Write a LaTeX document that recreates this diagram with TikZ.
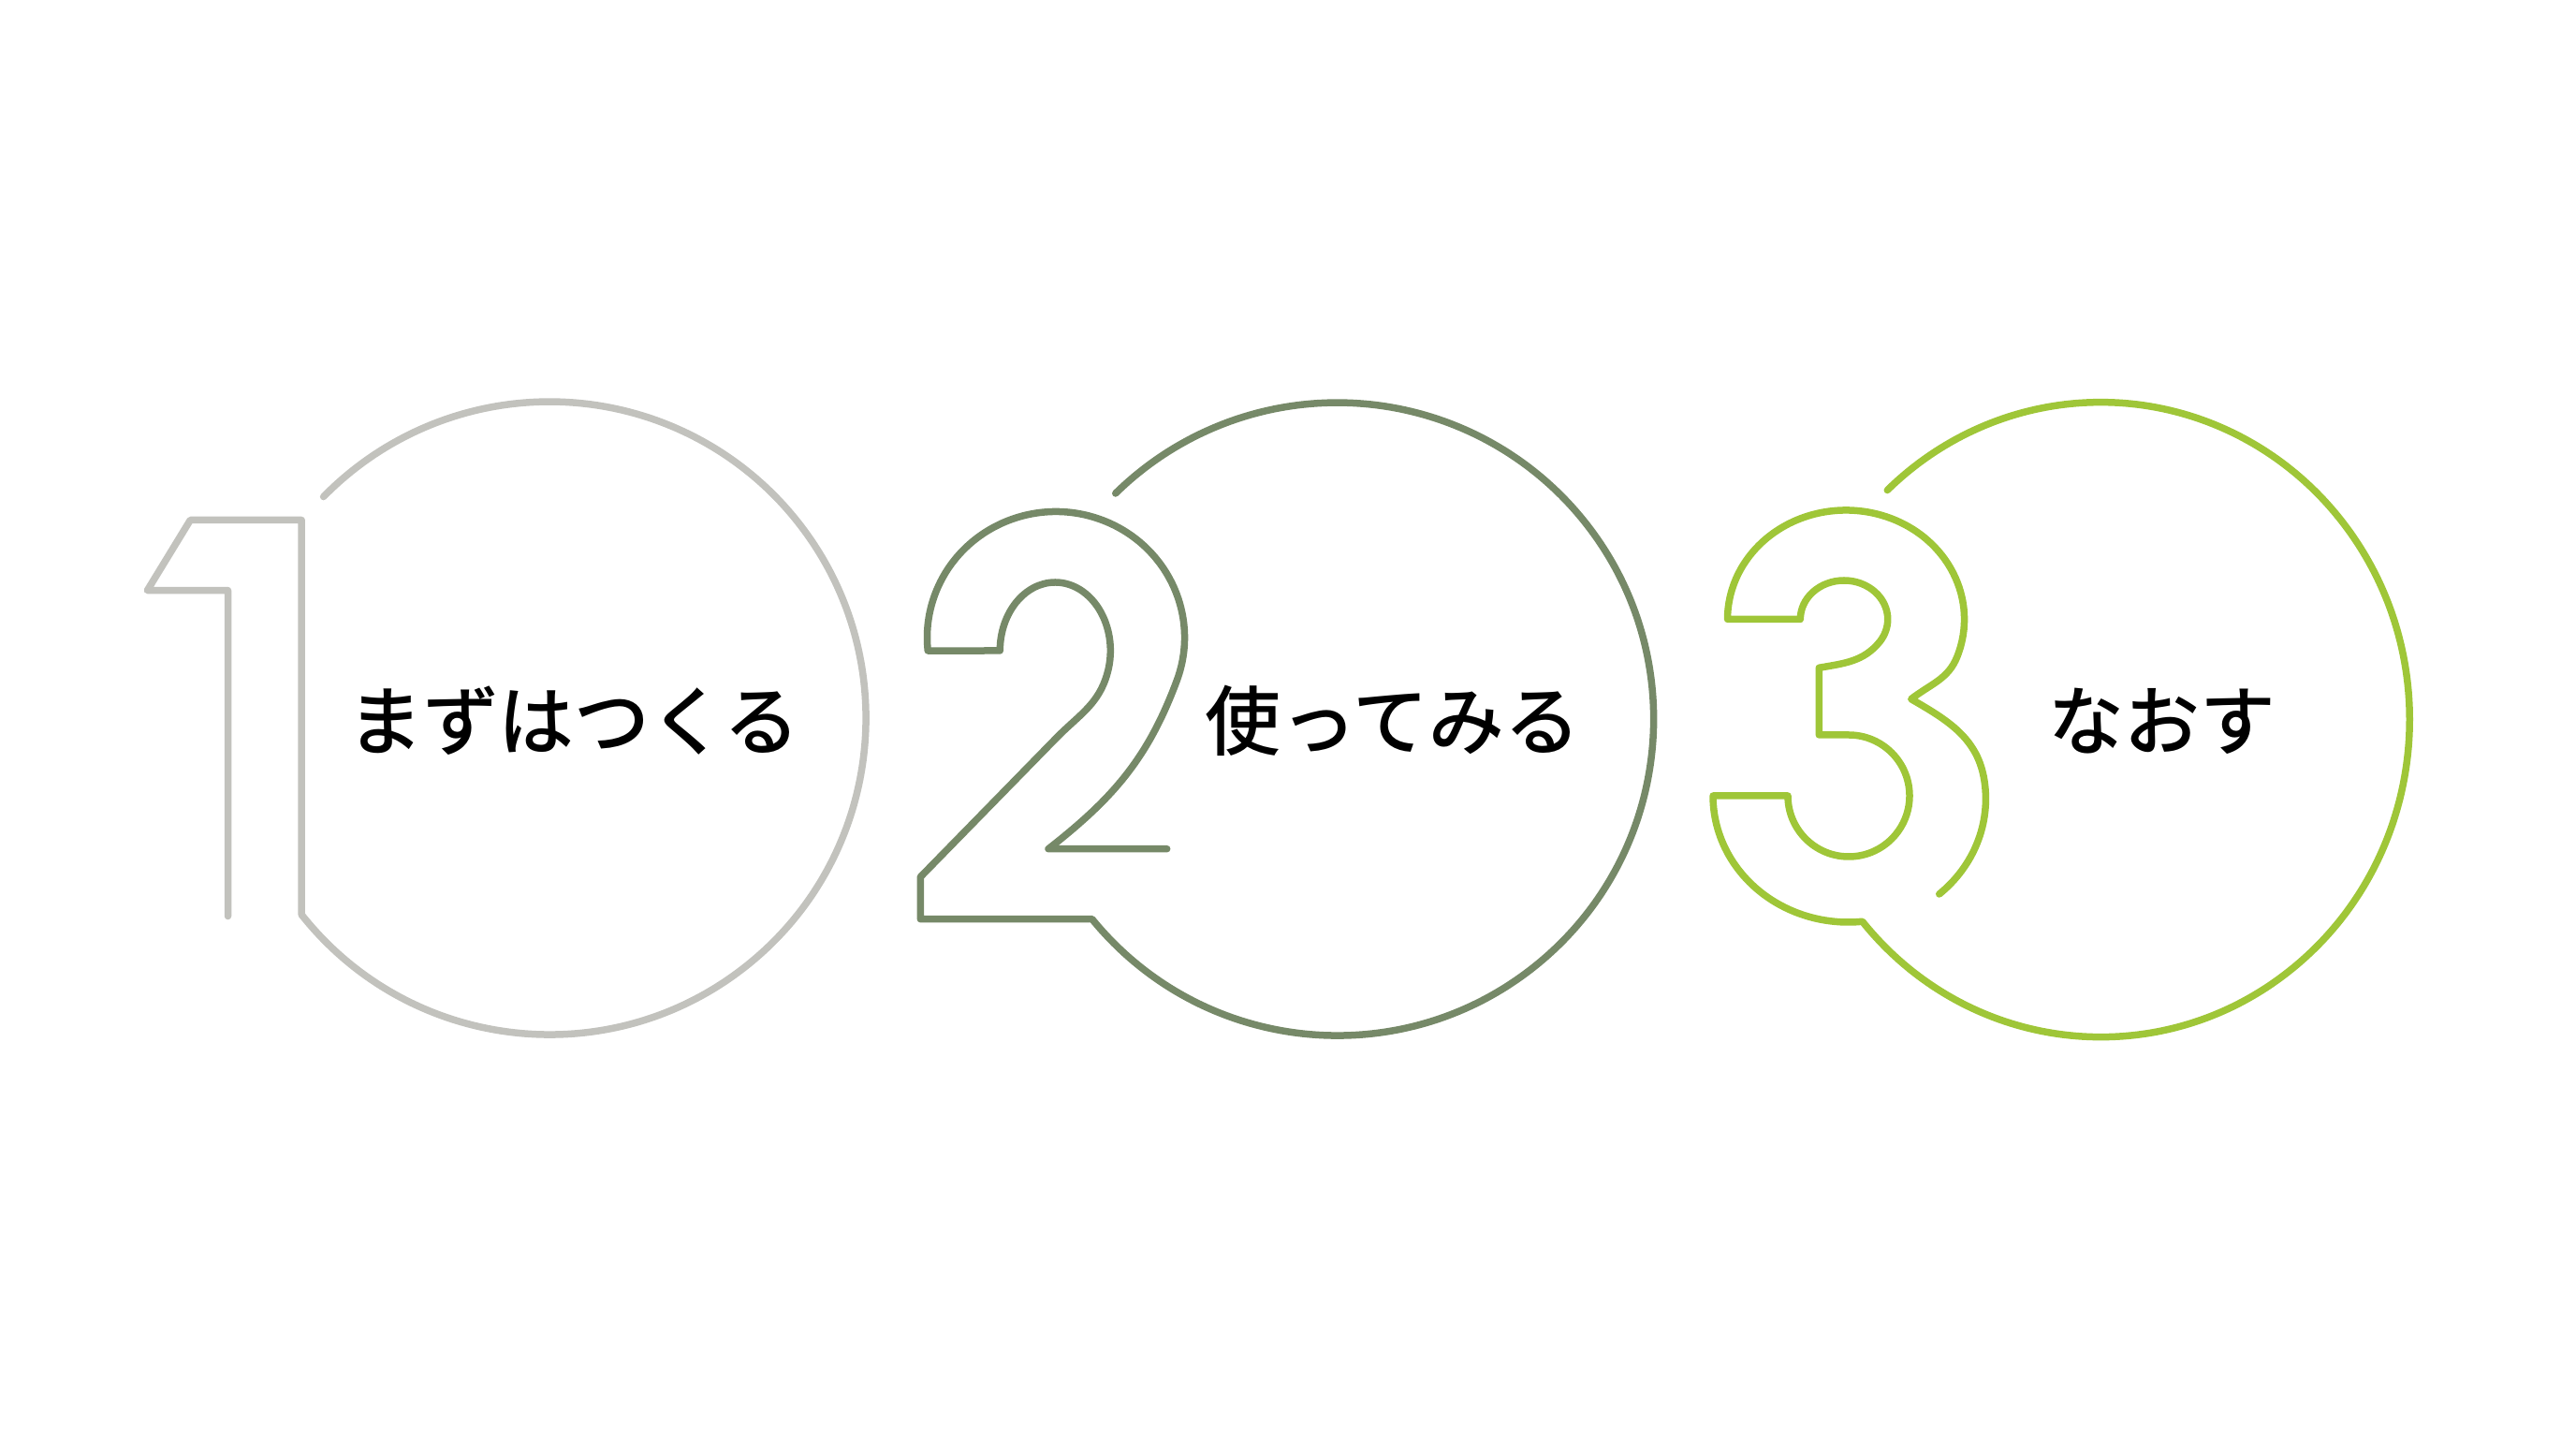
\documentclass[tikz,border=0pt]{standalone}
\usepackage{fontspec}
\newfontfamily\jpfont{Noto Sans CJK JP Medium}
\usepackage{tikz}
\definecolor{stepgray}{RGB}{194,194,189}
\definecolor{stepsage}{RGB}{118,137,104}
\definecolor{steplime}{RGB}{159,198,56}

\begin{document}
\begin{tikzpicture}[every node/.style={outer sep=0pt},
        outline/.style={line width=0.75mm,line cap=round,line join=round},
        caption/.style={font=\jpfont\fontsize{23}{28}\selectfont,inner sep=0pt}]
        \useasboundingbox (0,0) rectangle (27.52,15.36);

        % Step one
        \draw[outline,stepgray] (2.435,5.574) -- (2.435,9.054) -- (1.574,9.054) -- (2.033,9.805)
          -- (3.222,9.805) -- (3.222,5.59) arc[start angle=218.4,end angle=495.6,radius=3.38];
        \node[caption] (s1) at (6.13,7.66) {まずはつくる};

        % Step two
        \draw[outline,stepsage] (12.467,6.293) -- (11.20,6.293)
          to[out=38,in=249.6] (12.572,8.09)
          arc[start angle=-20,end angle=186,x radius=1.375,y radius=1.345]
          -- (10.683,8.41)
          arc[start angle=180,end angle=-20,x radius=0.59,y radius=0.73]
          to[out=254,in=45] (11.30,7.493)
          -- (9.833,5.993) -- (9.833,5.543) -- (11.667,5.543)
          arc[start angle=219.2,end angle=494.5,radius=3.38];
        \node[caption] (s2) at (14.88,7.66) {使ってみる};

        % Step three
        \draw[outline,steplime] (20.717,5.81)
          arc[start angle=-49,end angle=8,x radius=1.445,y radius=1.35]
          to[out=98.5,in=330] (20.417,7.893)
          to[out=38,in=248.4] (20.909,8.347)
          arc[start angle=-20,end angle=180,x radius=1.265,y radius=1.165]
          -- (19.233,8.745)
          arc[start angle=180,end angle=-35,x radius=0.467,y radius=0.415]
          to[out=231,in=10] (19.433,8.227)
          -- (19.433,7.51) -- (19.75,7.51)
          arc[start angle=90,end angle=-180,radius=0.65]
          -- (18.30,6.86)
          arc[start angle=180,end angle=276,x radius=1.445,y radius=1.35]
          arc[start angle=219.5,end angle=493.7,x radius=3.30,y radius=3.39];
        \node[caption] (s3) at (23.10,7.66) {なおす};

    \end{tikzpicture}
\end{document}
